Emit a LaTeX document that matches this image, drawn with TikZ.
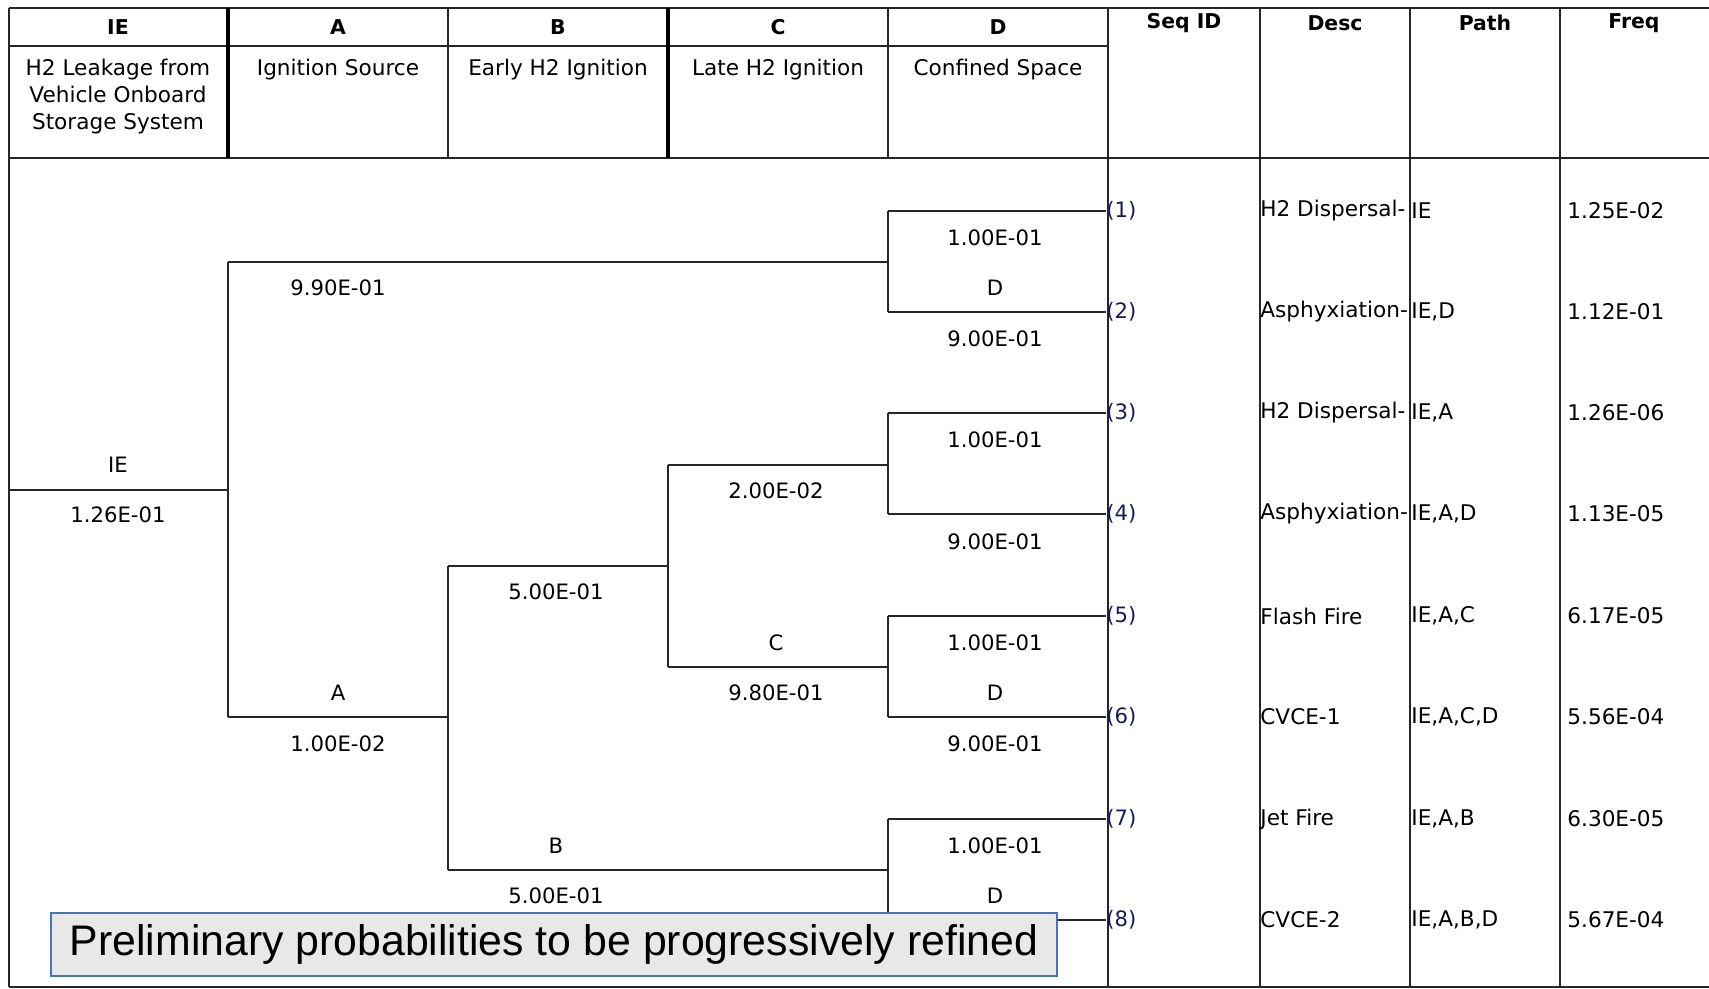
\documentclass[tikz,border=0pt]{standalone}
\usepackage{fontspec}
\setmainfont{DejaVu Sans}
\newfontfamily\boxfont{Liberation Sans}
\definecolor{seqblue}{RGB}{25,25,90}
\definecolor{boxfill}{RGB}{232,232,232}
\definecolor{boxedge}{RGB}{68,114,196}
\begin{document}
\begin{tikzpicture}[x=0.5pt,y=-0.5pt,
  grid/.style={line width=1.1pt,black!85},
  thickgrid/.style={line width=2pt,black},
  tree/.style={line width=1.15pt,black!85},
  lbl/.style={font=\fontsize{10.6}{12}\selectfont,inner sep=0pt},
  hdr/.style={font=\fontsize{10.2}{12}\selectfont\bfseries,inner sep=0pt},
  hdesc/.style={font=\fontsize{10.8}{13.5}\selectfont,inner sep=0pt,align=center,anchor=north},
  seq/.style={font=\fontsize{10.6}{12}\selectfont,text=seqblue,inner sep=0pt,anchor=west},
  cell/.style={font=\fontsize{10.8}{12}\selectfont,inner sep=0pt,anchor=west},
  note/.style={draw=boxedge,fill=boxfill,line width=1.2pt,inner sep=0pt,
    minimum width=503pt,minimum height=31.5pt,font=\boxfont\fontsize{21.4}{26}\selectfont}]
\useasboundingbox (0,0) rectangle (1709,989);

% ---------- table frame ----------
\draw[grid] (9,8) -- (1709,8);
\draw[grid] (9,158) -- (1709,158);
\draw[grid] (9,46) -- (1108,46);
\draw[grid] (9,987) -- (1709,987);
\draw[grid] (9,8) -- (9,987);
\draw[grid] (1108,8) -- (1108,987);
\draw[grid] (1260,8) -- (1260,987);
\draw[grid] (1410,8) -- (1410,987);
\draw[grid] (1560,8) -- (1560,987);
\draw[thickgrid] (228,8) -- (228,158);
\draw[grid] (448,8) -- (448,158);
\draw[thickgrid] (668,8) -- (668,158);
\draw[grid] (888,8) -- (888,158);

% ---------- headers ----------
\node[hdr] (hIE) at (118,27) {IE};
\node[hdr] (hA) at (338,27) {A};
\node[hdr] (hB) at (558,27) {B};
\node[hdr] (hC) at (778,27) {C};
\node[hdr] (hD) at (998,27) {D};
\node[hdr] (hS) at (1184,23) {Seq ID};
\node[hdr] (hDe) at (1335,23) {Desc};
\node[hdr] (hP) at (1485,23) {Path};
\node[hdr] (hF) at (1634,23) {Freq};
\node[hdesc] (dIE) at (118,59) {H2 Leakage from\\Vehicle Onboard\\Storage System};
\node[hdesc] (dA) at (338,59) {Ignition Source};
\node[hdesc] (dB) at (558,59) {Early H2 Ignition};
\node[hdesc] (dC) at (778,59) {Late H2 Ignition};
\node[hdesc] (dD) at (998,59) {Confined Space};

% ---------- tree coordinates ----------
\coordinate (ie) at (9,490);
\coordinate (aj) at (228,490);
\coordinate (a1) at (228,262);
\coordinate (a2) at (228,717);
\coordinate (d1) at (888,262);
\coordinate (b0) at (448,717);
\coordinate (b1) at (448,566);
\coordinate (b2) at (448,870);
\coordinate (c0) at (668,566);
\coordinate (c1) at (668,465);
\coordinate (c2) at (668,667);
\coordinate (e1) at (888,465);
\coordinate (e2) at (888,667);
\coordinate (e3) at (888,870);
\coordinate (f1) at (888,211);
\coordinate (f2) at (888,312);
\coordinate (f3) at (888,413);
\coordinate (f4) at (888,514);
\coordinate (f5) at (888,616);
\coordinate (f6) at (888,717);
\coordinate (f7) at (888,819);
\coordinate (f8) at (888,920);

% ---------- sequence nodes ----------
\node[seq] (s1) at (1106,211) {(1)};
\node[seq] (s2) at (1106,312) {(2)};
\node[seq] (s3) at (1106,413) {(3)};
\node[seq] (s4) at (1106,514) {(4)};
\node[seq] (s5) at (1106,616) {(5)};
\node[seq] (s6) at (1106,717) {(6)};
\node[seq] (s7) at (1106,819) {(7)};
\node[seq] (s8) at (1106,920) {(8)};

% ---------- branches ----------
\draw[tree] (ie) -- (aj);
\draw[tree] (a1) -- (a2);
\draw[tree] (a1) -- (d1);
\draw[tree] (a2) -- (b0);
\draw[tree] (b1) -- (b2);
\draw[tree] (b1) -- (c0);
\draw[tree] (c1) -- (c2);
\draw[tree] (c1) -- (e1);
\draw[tree] (c2) -- (e2);
\draw[tree] (b2) -- (e3);
\draw[tree] (f1) -- (f2);
\draw[tree] (f3) -- (f4);
\draw[tree] (f5) -- (f6);
\draw[tree] (f7) -- (f8);
\draw[tree] (f1) -- (s1.west);
\draw[tree] (f2) -- (s2.west);
\draw[tree] (f3) -- (s3.west);
\draw[tree] (f4) -- (s4.west);
\draw[tree] (f5) -- (s5.west);
\draw[tree] (f6) -- (s6.west);
\draw[tree] (f7) -- (s7.west);
\draw[tree] (f8) -- (s8.west);

% ---------- branch labels ----------
\node[lbl] (lIE) at (118,465) {IE};
\node[lbl] (pIE) at (118,515) {1.26E-01};
\node[lbl] (pA1) at (338,288) {9.90E-01};
\node[lbl] (lA) at (338,693) {A};
\node[lbl] (pA2) at (338,744) {1.00E-02};
\node[lbl] (pB1) at (556,592) {5.00E-01};
\node[lbl] (lB) at (556,846) {B};
\node[lbl] (pB2) at (556,896) {5.00E-01};
\node[lbl] (pC1) at (776,491) {2.00E-02};
\node[lbl] (lC) at (776,643) {C};
\node[lbl] (pC2) at (776,693) {9.80E-01};
\node[lbl] (pD1) at (995,238) {1.00E-01};
\node[lbl] (lD1) at (995,288) {D};
\node[lbl] (pD2) at (995,339) {9.00E-01};
\node[lbl] (pD3) at (995,440) {1.00E-01};
\node[lbl] (pD4) at (995,542) {9.00E-01};
\node[lbl] (pD5) at (995,643) {1.00E-01};
\node[lbl] (lD5) at (995,693) {D};
\node[lbl] (pD6) at (995,744) {9.00E-01};
\node[lbl] (pD7) at (995,846) {1.00E-01};
\node[lbl] (lD7) at (995,896) {D};

% ---------- result columns ----------
\node[cell] (de1) at (1260,211) {H2 Dispersal-};
\node[cell] (de2) at (1260,312) {Asphyxiation-};
\node[cell] (de3) at (1260,413) {H2 Dispersal-};
\node[cell] (de4) at (1260,514) {Asphyxiation-};
\node[cell] (de5) at (1260,616) {Flash Fire};
\node[cell] (de6) at (1260,717) {CVCE-1};
\node[cell] (de7) at (1260,819) {Jet Fire};
\node[cell] (de8) at (1260,920) {CVCE-2};
\node[cell] (pa1) at (1411,211) {IE};
\node[cell] (pa2) at (1411,312) {IE,D};
\node[cell] (pa3) at (1411,413) {IE,A};
\node[cell] (pa4) at (1411,514) {IE,A,D};
\node[cell] (pa5) at (1411,616) {IE,A,C};
\node[cell] (pa6) at (1411,717) {IE,A,C,D};
\node[cell] (pa7) at (1411,819) {IE,A,B};
\node[cell] (pa8) at (1411,920) {IE,A,B,D};
\node[cell] (fr1) at (1567,211) {1.25E-02};
\node[cell] (fr2) at (1567,312) {1.12E-01};
\node[cell] (fr3) at (1567,413) {1.26E-06};
\node[cell] (fr4) at (1567,514) {1.13E-05};
\node[cell] (fr5) at (1567,616) {6.17E-05};
\node[cell] (fr6) at (1567,717) {5.56E-04};
\node[cell] (fr7) at (1567,819) {6.30E-05};
\node[cell] (fr8) at (1567,920) {5.67E-04};

% ---------- note box ----------
\node[note] (note) at (554,944.5) {Preliminary probabilities to be progressively refined};
\end{tikzpicture}
\end{document}
